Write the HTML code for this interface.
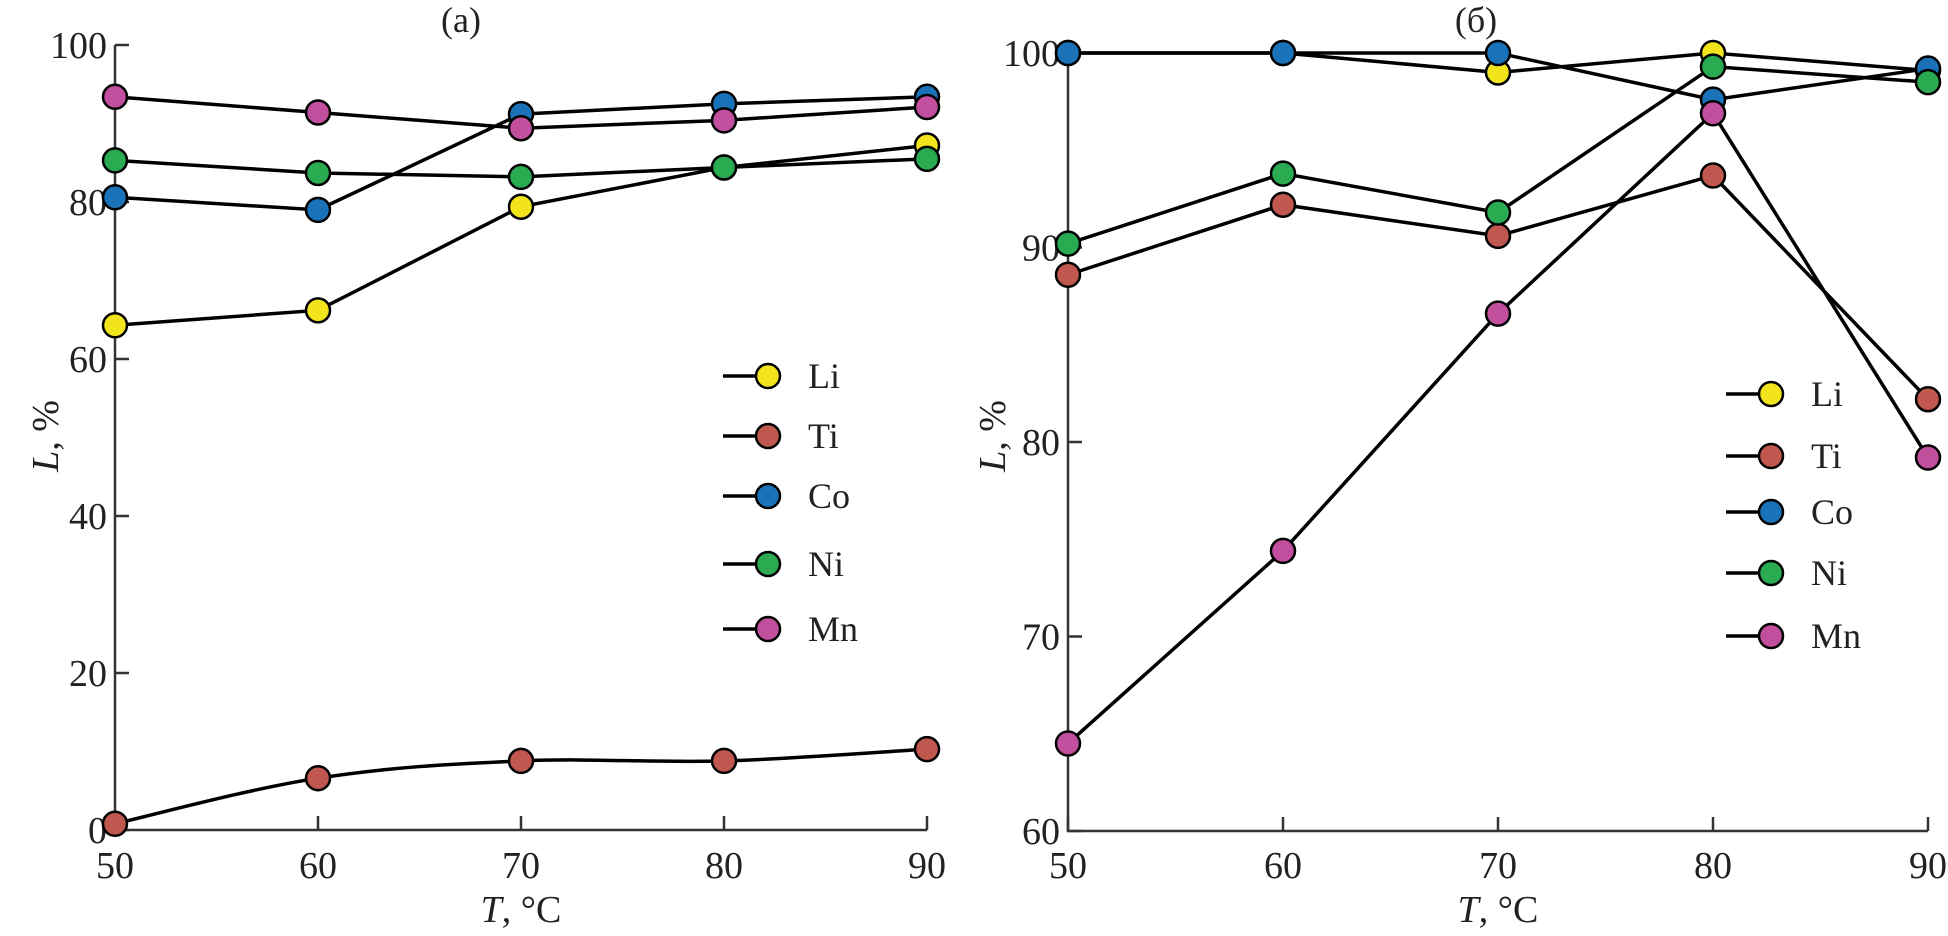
<!DOCTYPE html>
<html><head><meta charset="utf-8"><style>
body{margin:0;background:#fff}
svg{display:block;font-family:"Liberation Serif",serif}
</style></head><body>
<svg id="c" width="1948" height="936"></svg>
<script>
const temps=[50,60,70,80,90];
const elements=["Li","Ti","Co","Ni","Mn"];
const colors=["#f2e41c","#c0584f","#1a73b8","#2aab52","#c24f9e"];
const seriesA_Li=[64.3,66.2,79.4,84.4,87.2];
const seriesA_Ti=[0.8,6.6,8.8,8.8,10.3];
const seriesA_Co=[80.6,79.0,91.2,92.5,93.4];
const seriesA_Ni=[85.3,83.7,83.2,84.4,85.5];
const seriesA_Mn=[93.4,91.4,89.4,90.4,92.1];
const seriesB_Li=[100,100,99.0,100,99.1];
const seriesB_Ti=[88.6,92.2,90.6,93.7,82.2];
const seriesB_Co=[100,100,100,97.6,99.2];
const seriesB_Ni=[90.2,93.8,91.8,99.3,98.5];
const seriesB_Mn=[64.5,74.4,86.6,96.9,79.2];
const xTicks=[50,60,70,80,90];
const yTicksA=[0,20,40,60,80,100];
const yTicksB=[60,70,80,90,100];
const NS="http://www.w3.org/2000/svg";
const svg=document.getElementById('c');
function mk(tag,attrs,parent){const e=document.createElementNS(NS,tag);for(const k in attrs)e.setAttribute(k,attrs[k]);(parent||svg).appendChild(e);return e;}
function smoothPath(p){
  let d=`M${p[0][0]} ${p[0][1]}`;
  for(let i=0;i<p.length-1;i++){
    const p0=p[Math.max(0,i-1)],p1=p[i],p2=p[i+1],p3=p[Math.min(p.length-1,i+2)];
    const t=0.35;
    d+=` C${p1[0]+(p2[0]-p0[0])*t/2} ${p1[1]+(p2[1]-p0[1])*t/2} ${p2[0]-(p3[0]-p1[0])*t/2} ${p2[1]-(p3[1]-p1[1])*t/2} ${p2[0]} ${p2[1]}`;
  }
  return d;
}
function panel(cfg){
  const g=mk('g',{});
  
  
  const sx=v=>cfg.x0+(v-50)/40*(cfg.x1-cfg.x0);
  const sy=v=>cfg.y0-(v-cfg.ymin)/(cfg.ymax-cfg.ymin)*(cfg.y0-cfg.y1);
  const ax=mk('path',{d:`M${cfg.x0} ${cfg.y1}V${cfg.y0}H${cfg.x1}`,stroke:'#333',fill:'none','stroke-width':2.5},g);
  
  
  xTicks.forEach(t=>{
    mk('line',{x1:sx(t),x2:sx(t),y1:cfg.y0,y2:cfg.y0-14,stroke:'#333','stroke-width':2.5},g);
    const tx=mk('text',{x:sx(t),y:878,'font-size':38,'text-anchor':'middle',fill:'#222'},g);tx.textContent=t;
    
    
  });
  cfg.yt.forEach(t=>{
    mk('line',{x1:cfg.x0,x2:cfg.x0+14,y1:sy(t),y2:sy(t),stroke:'#333','stroke-width':2.5},g);
    const tx=mk('text',{x:cfg.x0-8,y:sy(t)+13,'font-size':38,'text-anchor':'end',fill:'#222'},g);tx.textContent=t;
    
    
  });
  cfg.series.forEach((s,i)=>{
    const pts=s.map((v,j)=>[sx(temps[j]),sy(v)]);
    let l;
    if(cfg.smooth===i){
      l=mk('path',{d:smoothPath(pts),fill:'none',stroke:'#000','stroke-width':3.5},g);
    }else{
      l=mk('polyline',{points:pts.map(p=>p.join(',')).join(' '),fill:'none',stroke:'#000','stroke-width':3.5},g);
    }
    
    
  });
  cfg.series.forEach((s,i)=>{
    s.forEach((v,j)=>{
      const c=mk('circle',{cx:sx(temps[j]),cy:sy(v),r:12,fill:colors[i],stroke:'#000','stroke-width':2.5},g);
      
      
    });
  });
  elements.forEach((el,i)=>{
    const y=cfg.ly[i];
    const lg=mk('g',{},g);
    
    
    mk('line',{x1:cfg.lx,x2:cfg.lx+45,y1:y,y2:y,stroke:'#000','stroke-width':3.5},lg);
    mk('circle',{cx:cfg.lx+45,cy:y,r:12,fill:colors[i],stroke:'#000','stroke-width':2.5},lg);
    const t=mk('text',{x:cfg.lx+85,y:y+12,'font-size':36,fill:'#222'},lg);t.textContent=el;
  });
  const ti=mk('text',{x:cfg.tx,y:32,'font-size':36,'text-anchor':'middle',fill:'#222'},g);ti.textContent=cfg.title;
  
  
  const xl=mk('text',{x:(cfg.x0+cfg.x1)/2,y:922,'font-size':38,'text-anchor':'middle',fill:'#222'},g);
  xl.innerHTML='<tspan font-style="italic">T</tspan>, °C';
  
  
  const yl=mk('text',{x:0,y:0,'font-size':38,'text-anchor':'middle',fill:'#222',transform:`translate(${cfg.ylx},436) rotate(-90)`},g);
  yl.innerHTML='<tspan font-style="italic">L</tspan>, %';
  
  
}
panel({name:'chart-a',x0:115,x1:927,y0:830,y1:45,ymin:0,ymax:100,yt:yTicksA,smooth:1,
  series:[seriesA_Li,seriesA_Ti,seriesA_Co,seriesA_Ni,seriesA_Mn],lx:723,ly:[376,436,496,564,629],tx:461,title:'(a)',ylx:58});
panel({name:'chart-b',x0:1068,x1:1928,y0:831,y1:53,ymin:60,ymax:100,yt:yTicksB,smooth:-1,
  series:[seriesB_Li,seriesB_Ti,seriesB_Co,seriesB_Ni,seriesB_Mn],lx:1726,ly:[394,456,512,573,636],tx:1476,title:'(б)',ylx:1005});
</script>
</body></html>
